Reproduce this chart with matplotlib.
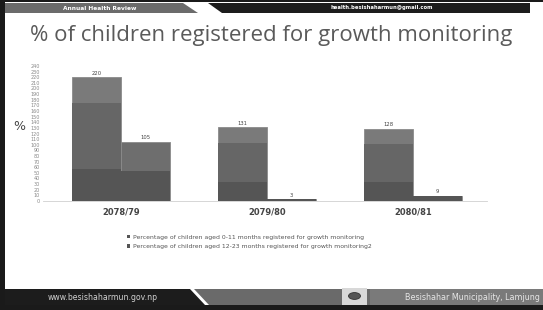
import matplotlib.pyplot as plt
from matplotlib.patches import Polygon, Circle

# data
years = ['2078/79', '2079/80', '2080/81']
age_0_11 = [220, 131, 128]
age_12_23 = [105, 3, 9]
labels = ['Percentage of children aged 0-11 months registered for growth monitoring',
          'Percentage of children aged 12-23 months registered for growth monitoring2']

W, H = 543, 310
fig = plt.figure(figsize=(W / 100, H / 100), dpi=100)


def fx(p):
    return p / W


def fy(p):
    return 1 - p / H


def poly(pts, color, z=0):
    fig.patches.append(Polygon([(fx(a), fy(b)) for a, b in pts], closed=True,
                               transform=fig.transFigure, facecolor=color,
                               edgecolor='none', zorder=z))


# slide frame
poly([(0, 0), (543, 0), (543, 310), (0, 310)], 'white', -2)
poly([(0, 0), (5, 0), (5, 310), (0, 310)], '#1a1a1a')
poly([(0, 0), (543, 0), (543, 2), (0, 2)], '#1a1a1a')
poly([(0, 305), (543, 305), (543, 310), (0, 310)], '#1a1a1a')

# header
poly([(5, 3), (183, 3), (198, 13), (5, 13)], '#6b6b6b')
poly([(208, 3), (530, 3), (530, 13), (222, 13)], '#1c1c1c')
fig.text(fx(100), fy(8), 'Annual Health Review', color='white', fontsize=4.2,
         fontweight='bold', ha='center', va='center')
fig.text(fx(382), fy(8), 'health.besishaharmun@gmail.com', color='white',
         fontsize=3.8, fontweight='bold', ha='center', va='center')

# title
fig.text(fx(271), fy(35), '% of children registered for growth monitoring',
         color='#5a5a5a', fontsize=16, family='Open Sans', ha='center', va='center')

# footer
poly([(5, 289), (190, 289), (205, 305), (5, 305)], '#1c1c1c')
poly([(194, 289), (543, 289), (543, 305), (209, 305)], '#6a6a6a')
poly([(370, 289), (543, 289), (543, 305), (370, 305)], '#7a7a7a')
poly([(342, 288), (367, 288), (367, 305), (342, 305)], '#d8d8d8')
fig.patches.append(Circle((fx(354.5), fy(296)), 6 / W, transform=fig.transFigure,
                          facecolor='#555555', edgecolor='#333333', lw=0.6))
fig.text(fx(103), fy(297), 'www.besishaharmun.gov.np', color='#d0d0d0',
         fontsize=5.6, ha='center', va='center')
fig.text(fx(472), fy(297), 'Besishahar Municipality, Lamjung', color='#e6e6e6',
         fontsize=5.8, ha='center', va='center')

# chart
ax = fig.add_axes([fx(43), fy(201), fx(487) - fx(43), (201 - 66) / H])
x = list(range(len(years)))
w = 0.335
x1 = [i - w / 2 for i in x]
x2 = [i + w / 2 for i in x]

# banded shading of the bars
ax.bar(x1, age_0_11, w, color='#7a7a7a', edgecolor='#8a8a8a', lw=0.6,
       label=labels[0])
ax.bar(x1, [v * 0.79 for v in age_0_11], w, color='#666666')
ax.bar(x1, [v * 0.26 for v in age_0_11], w, color='#555555')
ax.bar(x2, age_12_23, w, color='#6e6e6e', edgecolor='#8a8a8a', lw=0.6,
       label=labels[1])
ax.bar(x2, [v * 0.5 if v > 20 else v for v in age_12_23], w, color='#555555')

for xi, v in zip(x1, age_0_11):
    ax.text(xi, v + 3, str(v), ha='center', va='bottom', fontsize=3.8, color='#444444')
for xi, v in zip(x2, age_12_23):
    ax.text(xi, v + 3, str(v), ha='center', va='bottom', fontsize=3.8, color='#444444')

ax.set_xlim(-0.534, 2.507)
ax.set_ylim(0, 240)
ax.set_yticks(range(0, 241, 10))
ax.tick_params(axis='y', labelsize=3.5, labelcolor='#888888', length=0, pad=2)
ax.set_xticks(x)
ax.set_xticklabels(years, fontsize=6, fontweight='bold', color='#444444')
ax.tick_params(axis='x', length=0, pad=4.5)
for s in ['top', 'right', 'left']:
    ax.spines[s].set_visible(False)
ax.spines['bottom'].set_color('#d0d0d0')
ax.spines['bottom'].set_linewidth(0.6)
ax.patch.set_alpha(0)
fig.text(fx(19), fy(126), '%', fontsize=9, color='#444444', ha='center', va='center')

h, l = ax.get_legend_handles_labels()
leg = ax.legend(h, l, loc='upper left', bbox_to_anchor=(fx(121), fy(229)),
                bbox_transform=fig.transFigure, frameon=False, fontsize=4.45,
                handlelength=0.6, handleheight=0.6, handletextpad=0.4,
                labelspacing=0.75, labelcolor='#555555')
for p in leg.get_patches():
    p.set_facecolor('#555555')
    p.set_edgecolor('none')

fig.savefig('out.png', dpi=100)
